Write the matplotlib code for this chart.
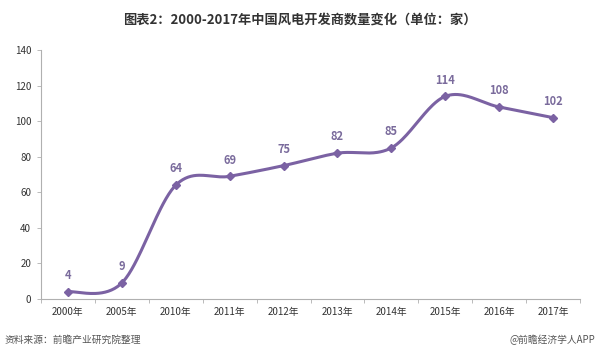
import numpy as np
import matplotlib.pyplot as plt

plt.rcParams['font.family'] = ['Noto Sans CJK SC', 'DejaVu Sans']

years = ['2000年', '2005年', '2010年', '2011年', '2012年', '2013年',
         '2014年', '2015年', '2016年', '2017年']
counts = [4, 9, 64, 69, 75, 82, 85, 114, 108, 102]

line_color = '#7b62a3'
label_color = '#7a6b9c'


def smooth(xs, ys, n=40):
    # excel-like smoothed line: cubic bezier between points
    p = np.column_stack([xs, ys]).astype(float)
    pp = np.vstack([p[0], p, p[-1]])
    out = []
    for i in range(len(p) - 1):
        p0, p3 = pp[i + 1], pp[i + 2]
        c1 = p0 + (pp[i + 2] - pp[i]) / 6
        c2 = p3 - (pp[i + 3] - pp[i + 1]) / 6
        t = np.linspace(0, 1, n)[:, None]
        seg = (1 - t) ** 3 * p0 + 3 * (1 - t) ** 2 * t * c1 + 3 * (1 - t) * t ** 2 * c2 + t ** 3 * p3
        out.append(seg)
    out = np.vstack(out)
    return out[:, 0], out[:, 1]


fig = plt.figure(figsize=(5.99, 3.58), dpi=100)
ax = fig.add_axes([0.0684, 0.165, 0.9, 0.695])

x = np.arange(len(years))
sx, sy = smooth(x, counts)
ax.plot(sx, sy, color=line_color, lw=2.2, solid_capstyle='round')
ax.plot(x, counts, 'D', color=line_color, ms=4.5)

for xi, v in zip(x, counts):
    ax.annotate(str(v), (xi, v), xytext=(0, 7), textcoords='offset points',
                ha='center', va='bottom', fontsize=8, fontweight='bold', color=label_color)

ax.set_xlim(-0.5, len(years) - 0.5)
ax.set_ylim(0, 140)
ax.set_yticks(range(0, 141, 20))
ax.set_xticks(x)
ax.set_xticklabels(years)
ax.set_xticks(np.arange(-0.5, len(years), 1), minor=True)

for s in ['top', 'right']:
    ax.spines[s].set_visible(False)
for s in ['left', 'bottom']:
    ax.spines[s].set_color('#b0b0b0')
    ax.spines[s].set_linewidth(0.8)

ax.tick_params(axis='y', labelsize=7, colors='#333333', length=3, width=0.6, pad=4)
ax.tick_params(axis='y', color='#b0b0b0')
ax.tick_params(axis='x', which='major', length=0, labelsize=7, labelcolor='#333333', pad=6)
ax.tick_params(axis='x', which='minor', length=3, width=0.6, color='#b0b0b0')

fig.text(0.5, 0.945, '图表2：2000-2017年中国风电开发商数量变化（单位：家）',
         ha='center', va='center', fontsize=9.5, fontweight='bold', color='#333333')
fig.text(0.008, 0.05, '资料来源：前瞻产业研究院整理', ha='left', va='center',
         fontsize=7, style='italic', color='#555555')
fig.text(0.993, 0.05, '@前瞻经济学人APP', ha='right', va='center',
         fontsize=7, color='#555555')

fig.savefig('out.png', dpi=100)
